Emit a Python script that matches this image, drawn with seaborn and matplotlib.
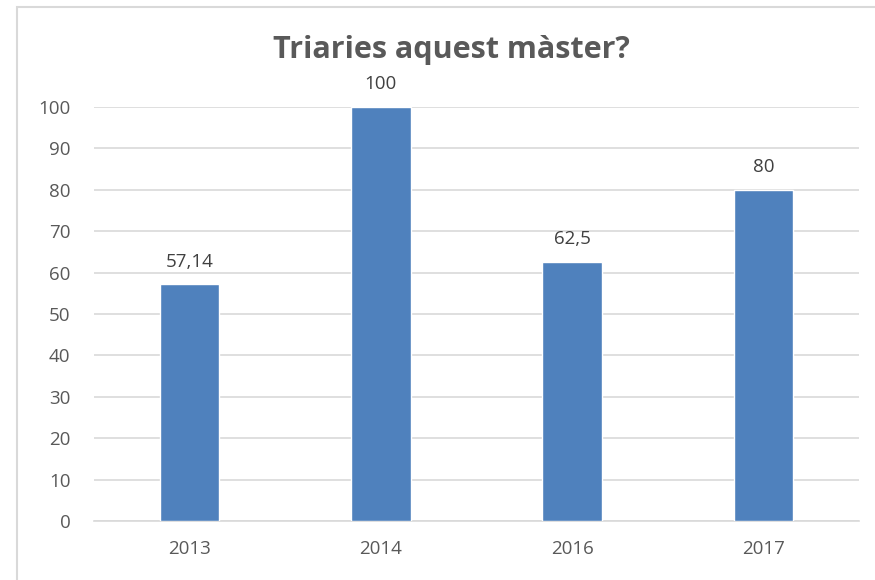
import pandas as pd
import matplotlib.pyplot as plt
import seaborn as sns
from matplotlib.patches import Rectangle

years = ['2013', '2014', '2016', '2017']
values = [57.14, 100, 62.5, 80]
labels = ['57,14', '100', '62,5', '80']

df = pd.DataFrame({'year': years, 'value': values})

sns.set_style('white')
plt.rcParams['font.family'] = ['Open Sans', 'DejaVu Sans']

fig = plt.figure(figsize=(8.75, 5.8), dpi=100)
ax = fig.add_axes([94 / 875, 1 - 521 / 580, 765 / 875, 414 / 580])

sns.barplot(data=df, x='year', y='value', color='#4F81BD', saturation=1,
            width=0.31, ax=ax, zorder=3)

ax.set_ylim(0, 100)
ax.set_yticks(range(0, 101, 10))
ax.set_xlim(-0.5, 3.5)
ax.grid(axis='y', color='#D9D9D9', linewidth=1.2, zorder=0)
ax.set_axisbelow(True)
for s in ['top', 'right', 'left']:
    ax.spines[s].set_visible(False)
ax.spines['bottom'].set_color('#D9D9D9')
ax.spines['bottom'].set_linewidth(1.2)
ax.tick_params(axis='both', length=0, labelsize=13.5, labelcolor='#595959')
ax.tick_params(axis='y', pad=17)
ax.tick_params(axis='x', pad=14)
ax.set_xlabel('')
ax.set_ylabel('')

# value labels above bars
for i, (v, t) in enumerate(zip(values, labels)):
    ax.annotate(t, (i, v), xytext=(0, 10), textcoords='offset points',
                ha='center', va='bottom', fontsize=13.5, color='#404040')

fig.text(451 / 875, 1 - 50 / 580, 'Triaries aquest màster?', ha='center',
         va='center', fontsize=22, fontweight='bold', color='#595959')

# chart frame (cut off at right and bottom like the reference)
fig.patches.append(Rectangle((17 / 875, -0.05), 1.0, 1 - 7 / 580 + 0.05,
                             transform=fig.transFigure, fill=False,
                             edgecolor='#D9D9D9', linewidth=1.5))

fig.savefig('out.png', dpi=100)
plt.close()
